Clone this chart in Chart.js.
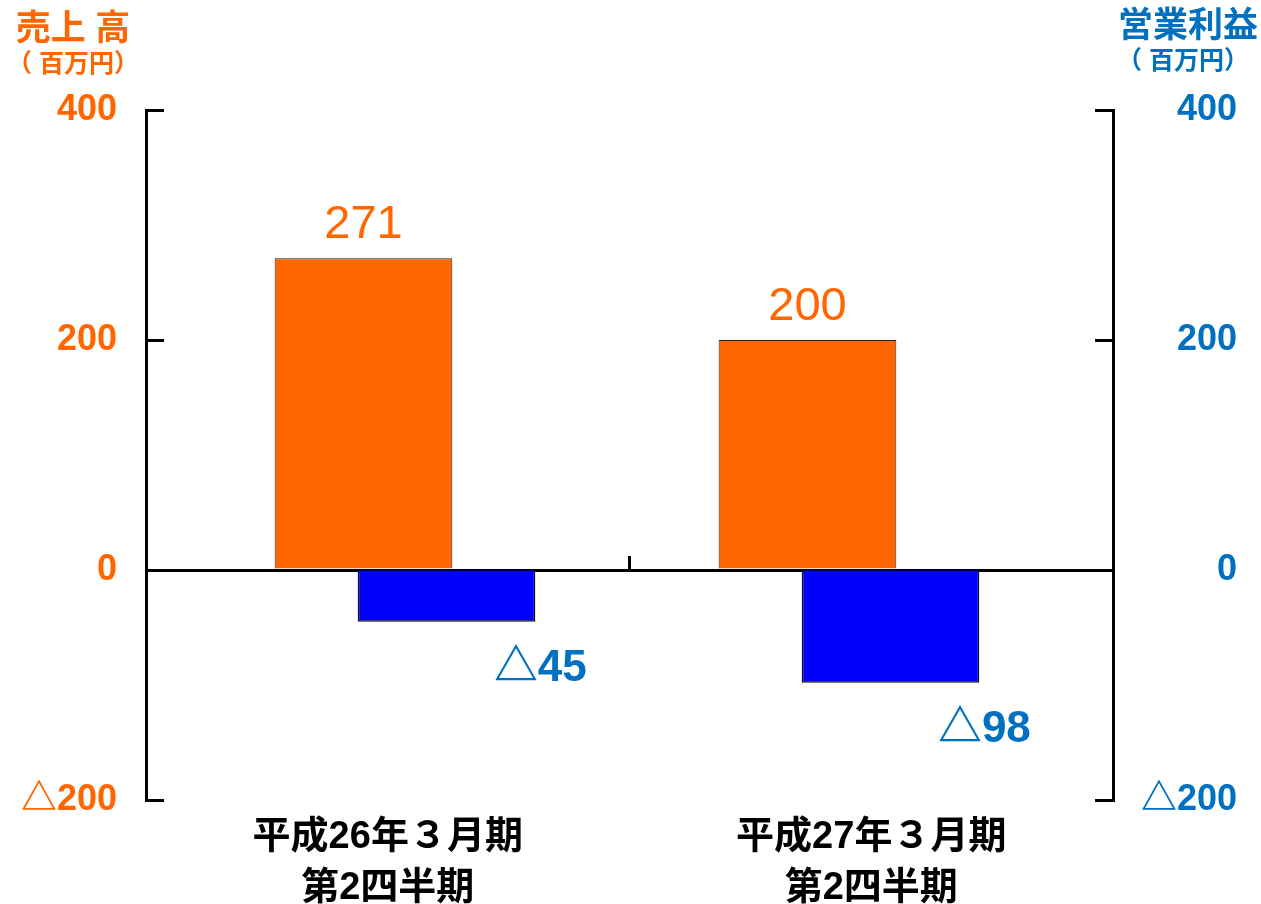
<!DOCTYPE html>
<html lang="ja">
<head>
<meta charset="utf-8">
<title>売上高・営業利益</title>
<script src="https://cdn.jsdelivr.net/npm/chart.js@4.4.1/dist/chart.umd.min.js"></script>
<style>
  /* use the CJK triangle for △ so it matches the bold, full-width mark */
  @font-face {
    font-family: 'Tri';
    src: local('Noto Sans CJK JP Black'), local('NotoSansCJKjp-Black'), local('Noto Sans CJK JP Bold'), local('NotoSansCJKjp-Bold'), local('Noto Sans CJK JP');
    font-weight: bold;
    unicode-range: U+25B3;
  }
  html, body { margin: 0; padding: 0; background: #fff; }
  #wrap { width: 1261px; height: 904px; position: relative; }
</style>
</head>
<body>
<div id="wrap"><canvas id="salesChart"></canvas></div>
<script>
// Categories (two lines each)
const periods = [
    ['平成26年３月期', '第2四半期'],
    ['平成27年３月期', '第2四半期']
];
// 売上高 (百万円)
const sales = [271, 200];
// 営業利益 (百万円)
const operatingProfit = [-45, -98];
// Tick values shared by both axes
const tickValues = [-200, 0, 200, 400];

const ORANGE = '#FF6600';
const BLUE_TEXT = '#0070C0';
const BLUE_BAR = '#0000FF';
const NUM_FONT = 'Tri, "Liberation Sans", "DejaVu Sans", "Noto Sans CJK JP", sans-serif';
const JP_FONT = '"Liberation Sans", "Noto Sans CJK JP", sans-serif';

function fmt(v) {
    return v < 0 ? '△' + Math.abs(v) : String(v);
}

// Axis titles in the top corners
const titlePlugin = {
    id: 'titles',
    afterDraw(chart) {
        const ctx = chart.ctx;
        ctx.save();
        ctx.textAlign = 'center';
        ctx.textBaseline = 'middle';
        ctx.fillStyle = ORANGE;
        ctx.font = 'bold 35px ' + JP_FONT;
        ctx.fillText('売上 高', 73, 30);
        ctx.font = 'bold 25px ' + JP_FONT;
        ctx.fillText('（ 百万円）', 73, 65);
        ctx.fillStyle = BLUE_TEXT;
        ctx.font = 'bold 35px ' + JP_FONT;
        ctx.fillText('営業利益', 1188, 27);
        ctx.font = 'bold 25px ' + JP_FONT;
        ctx.fillText('（ 百万円）', 1183, 62);
        ctx.restore();
    }
};

// Small tick on the zero line between categories
const separatorPlugin = {
    id: 'separators',
    afterDatasetsDraw(chart) {
        const x = chart.scales.x, y = chart.scales.y;
        const y0 = y.getPixelForValue(0);
        const ctx = chart.ctx;
        ctx.save();
        ctx.strokeStyle = '#000';
        ctx.lineWidth = 3;
        for (let i = 0; i < periods.length - 1; i++) {
            const px = (x.getPixelForValue(i) + x.getPixelForValue(i + 1)) / 2;
            ctx.beginPath();
            ctx.moveTo(px, y0 - 14);
            ctx.lineTo(px, y0);
            ctx.stroke();
        }
        ctx.restore();
    }
};

// Value labels: above orange bars, below-right of blue bars
const valueLabelPlugin = {
    id: 'valueLabels',
    afterDatasetsDraw(chart) {
        const ctx = chart.ctx;
        ctx.save();
        ctx.textBaseline = 'middle';
        ctx.textAlign = 'center';
        chart.getDatasetMeta(0).data.forEach((bar, i) => {
            ctx.fillStyle = ORANGE;
            ctx.font = '47px ' + NUM_FONT;
            ctx.fillText(fmt(sales[i]), bar.x, bar.y - 33);
        });
        chart.getDatasetMeta(1).data.forEach((bar, i) => {
            ctx.fillStyle = BLUE_TEXT;
            ctx.font = 'bold 44px ' + NUM_FONT;
            ctx.fillText(fmt(operatingProfit[i]), bar.x + bar.width / 2 + 5, bar.y + 47);
        });
        ctx.restore();
    }
};

const yAxisCommon = {
    min: -200,
    max: 400,
    afterBuildTicks: (s) => { s.ticks = tickValues.map(v => ({ value: v })); },
    border: { display: true, color: '#000', width: 3 },
    z: 1
};

function drawChart() {
    const ctx = document.getElementById('salesChart').getContext('2d');
    return new Chart(ctx, {
        type: 'bar',
        data: {
            labels: periods,
            datasets: [{
                label: '売上高',
                data: sales.map((v, i) => ({ x: i + 1, y: v })),
                backgroundColor: ORANGE,
                borderColor: '#222',
                borderWidth: 1,
                xAxisID: 'xb',
                yAxisID: 'y'
            }, {
                label: '営業利益',
                data: operatingProfit.map((v, i) => ({ x: i + 1, y: v })),
                backgroundColor: BLUE_BAR,
                borderColor: '#111',
                borderWidth: 1.5,
                xAxisID: 'xb',
                yAxisID: 'y1'
            }]
        },
        options: {
            responsive: true,
            maintainAspectRatio: false,
            animation: false,
            layout: { padding: { top: 110, left: 0, right: 24, bottom: 0 } },
            categoryPercentage: 0.374,
            barPercentage: 2.14,
            plugins: {
                legend: { display: false },
                tooltip: { enabled: false }
            },
            scales: {
                x: {
                    type: 'category',
                    position: 'bottom',
                    afterFit: (s) => { s.height = 104; },
                    border: { display: false },
                    grid: { display: false, drawTicks: false },
                    ticks: {
                        color: '#000',
                        padding: 12,
                        maxRotation: 0,
                        font: { family: JP_FONT, size: 38, weight: 'bold', lineHeight: 1.35 }
                    }
                },
                xb: {
                    type: 'linear',
                    display: false,
                    offset: false,
                    min: 0.4167,
                    max: 2.5946,
                    ticks: { stepSize: 1, includeBounds: false }
                },
                y: Object.assign({}, yAxisCommon, {
                    position: 'left',
                    afterFit: (s) => { s.width = 146; },
                    grid: {
                        drawOnChartArea: true,
                        drawTicks: true,
                        tickLength: -18,
                        tickWidth: 3,
                        tickColor: '#000',
                        lineWidth: 3,
                        color: (c) => (c.tick && c.tick.value === 0 ? '#000' : 'rgba(0,0,0,0)')
                    },
                    ticks: {
                        color: ORANGE,
                        padding: 47,
                        font: { family: NUM_FONT, size: 36, weight: 'bold' },
                        callback: (v) => fmt(v)
                    }
                }),
                y1: Object.assign({}, yAxisCommon, {
                    position: 'right',
                    afterFit: (s) => { s.width = 124; },
                    grid: {
                        drawOnChartArea: false,
                        drawTicks: true,
                        tickLength: -18,
                        tickWidth: 3,
                        tickColor: '#000'
                    },
                    ticks: {
                        color: BLUE_TEXT,
                        padding: 38,
                        crossAlign: 'far',
                        font: { family: NUM_FONT, size: 36, weight: 'bold' },
                        callback: (v) => fmt(v)
                    }
                })
            }
        },
        plugins: [titlePlugin, separatorPlugin, valueLabelPlugin]
    });
}

let salesChart;
document.fonts.load('bold 36px Tri', '△').catch(() => {}).then(() => {
    salesChart = drawChart();
});
</script>
</body>
</html>
